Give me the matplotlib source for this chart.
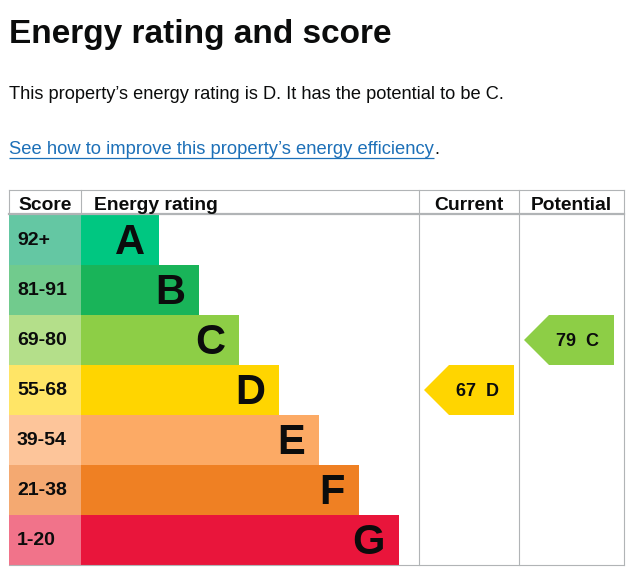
import matplotlib
matplotlib.use("Agg")
import matplotlib.pyplot as plt
from matplotlib.patches import Polygon

# ---- data ----
bands = ["A", "B", "C", "D", "E", "F", "G"]
score_ranges = ["92+", "81-91", "69-80", "55-68", "39-54", "21-38", "1-20"]
band_min = [92, 81, 69, 55, 39, 21, 1]
band_colours = ["#00c781", "#19b459", "#8dce46", "#ffd500", "#fcaa65", "#ef8023", "#e9153b"]
score_colours = ["#64c7a3", "#71cb8d", "#b4df8a", "#ffe566", "#fdc59a", "#f4a971", "#f1738a"]
current_score = 67
potential_score = 79
title = "Energy rating and score"
summary = "This property\u2019s energy rating is D. It has the potential to be C."
link_text = "See how to improve this property\u2019s energy efficiency"
headers = ["Score", "Energy rating", "Current", "Potential"]

# ---- layout (pixels) ----
W, H = 629, 579
fig = plt.figure(figsize=(W / 100, H / 100), dpi=100)
ax = fig.add_axes([0, 0, 1, 1])
ax.set_xlim(0, W)
ax.set_ylim(H, 0)
ax.axis("off")

FONT = "Liberation Sans"
grid = "#b1b4b6"
left, score_w = 9, 72
table_top, header_bot = 190, 214
row0, row_h = 215, 50
cur_x0, pot_x0, right = 419, 519, 624
bar_base, bar_step = 78, 40

def band_index(score):
    for i, m in enumerate(band_min):
        if score >= m:
            return i
    return len(band_min) - 1

# title & text
ax.text(left, 43, title, fontsize=24, fontweight="bold", family=FONT,
        color="#0b0c0c", va="baseline", ha="left")
ax.text(left, 99, summary, fontsize=13.15, family=FONT, color="#0b0c0c",
        va="baseline", ha="left")
t = ax.text(left, 154, link_text, fontsize=13.2, family=FONT, color="#1d70b8",
            va="baseline", ha="left")
fig.canvas.draw()
bb = t.get_window_extent()
x_end = bb.x1
ax.plot([left, x_end], [157.5, 157.5], color="#1d70b8", lw=0.9, solid_capstyle="butt")
ax.text(x_end, 154, ".", fontsize=13.2, family=FONT, color="#0b0c0c",
        va="baseline", ha="left")

# table rows
n = len(bands)
centers = [row0 + row_h * i + row_h / 2 for i in range(n)]
lengths = [bar_base + bar_step * i for i in range(n)]
ax.barh(centers, [score_w] * n, left=left, height=row_h, color=score_colours, lw=0)
ax.barh(centers, lengths, left=left + score_w, height=row_h, color=band_colours, lw=0)
for i in range(n):
    ax.text(left + 8, centers[i] + 5, score_ranges[i], fontsize=14, fontweight="bold",
            family=FONT, color="#0b0c0c", va="baseline", ha="left")
    ax.text(left + score_w + lengths[i] - 14, centers[i] + 14.5, bands[i], fontsize=30,
            fontweight="bold", family=FONT, color="#0b0c0c", va="baseline", ha="right")

# grid lines
bottom = row0 + row_h * n
ax.plot([left, right], [table_top, table_top], color=grid, lw=0.8)
ax.plot([left, right], [header_bot, header_bot], color=grid, lw=1.6)
ax.plot([left, right], [bottom, bottom], color=grid, lw=0.8)
ax.plot([left, left], [table_top, header_bot], color=grid, lw=0.8)
ax.plot([left + score_w, left + score_w], [table_top, header_bot], color=grid, lw=0.8)
for x in (cur_x0, pot_x0, right):
    ax.plot([x, x], [table_top, bottom], color=grid, lw=0.8)

# headers
hy = 210
hfs = 13.9
ax.text(left + score_w / 2, hy, headers[0], fontsize=hfs, fontweight="bold", family=FONT,
        color="#0b0c0c", va="baseline", ha="center")
ax.text(left + score_w + 13, hy, headers[1], fontsize=hfs, fontweight="bold", family=FONT,
        color="#0b0c0c", va="baseline", ha="left")
ax.text((cur_x0 + pot_x0) / 2, hy, headers[2], fontsize=hfs, fontweight="bold", family=FONT,
        color="#0b0c0c", va="baseline", ha="center")
ax.text((pot_x0 + right) / 2, hy, headers[3], fontsize=hfs, fontweight="bold", family=FONT,
        color="#0b0c0c", va="baseline", ha="center")

# arrows
def arrow(col_x0, score):
    i = band_index(score)
    yc = centers[i]
    tip = col_x0 + 5
    r = col_x0 + 95
    top, bot = yc - row_h / 2, yc + row_h / 2
    poly = Polygon([(tip, yc), (tip + 25, top), (r, top), (r, bot), (tip + 25, bot)],
                   closed=True, color=band_colours[i], lw=0)
    ax.add_patch(poly)
    ax.text(tip + 53, yc + 6.5, f"{score}  {bands[i]}", fontsize=13, fontweight="bold",
            family=FONT, color="#0b0c0c", va="baseline", ha="center")

arrow(cur_x0, current_score)
arrow(pot_x0, potential_score)

fig.savefig("out.png", dpi=100)
